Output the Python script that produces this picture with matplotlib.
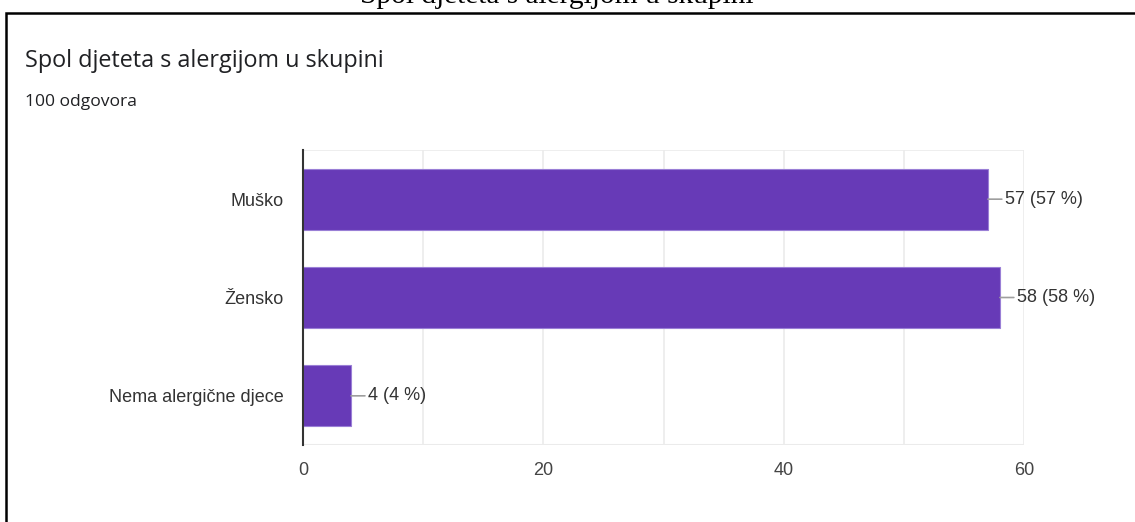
import matplotlib.pyplot as plt
from matplotlib.patches import Rectangle

categories = ["Muško", "Žensko", "Nema alergične djece"]
counts = [57, 58, 4]
percents = [57, 58, 4]
xticks = [0, 20, 40, 60]

purple = "#673ab7"

fig = plt.figure(figsize=(11.35, 5.22), dpi=100)

# cut-off caption above the frame
fig.text(0.4903, 1 - 3 / 522, "Spol djeteta s alergijom u skupini", ha="center", va="baseline",
         fontsize=21.2, family="Liberation Serif", color="black")

# frame of the screenshot
fig.patches.append(Rectangle((6 / 1135, -0.05), 1.1, 1 - 12.5 / 522 + 0.05, transform=fig.transFigure,
                             fill=False, edgecolor="black", linewidth=1.8))

fig.text(25 / 1135, 1 - 61 / 522, "Spol djeteta s alergijom u skupini", ha="left", va="center",
         fontsize=16.8, family="Open Sans", color="#202124")
fig.text(25 / 1135, 1 - 102 / 522, "100 odgovora", ha="left", va="center",
         fontsize=12.6, family="Open Sans", color="#202124")

ax = fig.add_axes([303 / 1135, 1 - 445 / 522, 721 / 1135, 295 / 522])
y = list(range(len(categories)))
ax.barh(y, counts, height=0.62, color=purple, edgecolor="#9a7fd6", linewidth=0.8, zorder=3)
ax.set_xlim(0, 60)
ax.set_ylim(len(categories) - 0.5, -0.5)
ax.set_yticks(y)
ax.set_yticklabels(categories, fontsize=13, family="Liberation Sans", color="#333333")
ax.set_xticks(range(0, 61, 10))
ax.set_xticklabels([str(t) if t in xticks else "" for t in range(0, 61, 10)],
                   fontsize=13, family="Liberation Sans", color="#444444")
ax.tick_params(length=0, pad=14)
ax.tick_params(axis="x", pad=12)
ax.grid(axis="x", color="#ebebeb", linewidth=1.2, zorder=0)

for s in ["top", "right", "bottom"]:
    ax.spines[s].set_visible(False)
ax.spines["left"].set_color("#333333")
ax.spines["left"].set_linewidth(1.5)
ax.spines["left"].set_zorder(4)
ax.axhline(len(categories) - 0.5, color="#ebebeb", linewidth=1.5, zorder=1)
ax.axhline(-0.5, color="#ebebeb", linewidth=1.2, zorder=1)

for i, (c, p) in enumerate(zip(counts, percents)):
    ax.annotate(f"{c} ({p} %)", xy=(c, i), xytext=(12, 0), textcoords="offset points",
                ha="left", va="center", fontsize=13, family="Liberation Sans", color="#333333",
                arrowprops=dict(arrowstyle="-", color="#9e9e9e", lw=1.2, shrinkA=0, shrinkB=0))

fig.savefig("out.png", dpi=100)
